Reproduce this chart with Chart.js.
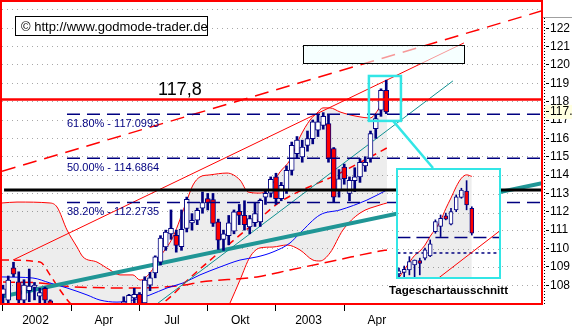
<!DOCTYPE html>
<html>
<head>
<meta charset="utf-8">
<script src="https://cdn.jsdelivr.net/npm/chart.js@4/dist/chart.umd.min.js"></script>
<style>
  html, body { margin: 0; padding: 0; background: #fff; }
  #wrap { position: relative; width: 572px; height: 326px; }
  #wrap canvas { display: block; }
  #inset { position: absolute; left: 396px; top: 168px; width: 101px; height: 107px; border: 2px solid #33e6e6; background: #fff; }
</style>
</head>
<body>
<div id="wrap">
  <canvas id="main" width="572" height="326"></canvas>
  <div id="inset"><canvas id="daily" width="101" height="107"></canvas></div>
</div>
<script>
// weekly candles, Jan 2002 .. May 2003 (index = week)
const weekOpen = [107.5, 107.19, 108.95, 108.19, 107.19, 107.7, 107.88, 107.4, 107.83, 107.15,
  106.8, 106.4, 106.6, 106.2, 106.3, 106.0, 105.7, 105.9, 105.6, 105.8,
  106.1, 106.0, 106.5, 106.8, 106.9, 107.3, 107.52, 107.03, 108.0, 108.67,
  109.26, 110.08, 110.8, 110.72, 110.1, 111.1, 111.39, 111.54, 112.2, 112.72,
  112.67, 111.45, 110.5, 110.7, 110.95, 112.03, 111.8, 111.17, 111.4, 111.45,
  112.8, 113.02, 113.9, 112.72, 113.17, 114.26, 115.17, 114.99, 115.62, 115.99,
  116.44, 116.7, 116.8, 115.44, 113.2, 114.44, 113.0, 113.7, 113.9, 114.5,
  114.9, 116.53, 117.53, 118.62];
const weekHigh = [108.0, 108.5, 109.25, 108.73, 108.3, 108.88, 108.15, 107.83, 107.9, 107.2,
  106.95, 106.7, 106.8, 106.5, 106.6, 106.3, 106.1, 106.2, 105.9, 106.3,
  106.5, 106.6, 106.9, 107.37, 107.5, 107.83, 107.6, 108.46, 108.7, 109.6,
  110.7, 111.0, 112.1, 111.0, 112.1, 112.8, 111.9, 112.2, 113.08, 113.0,
  113.0, 111.6, 111.0, 111.8, 112.1, 112.4, 112.6, 111.8, 112.5, 112.7,
  113.2, 113.9, 114.1, 113.6, 114.5, 115.8, 116.1, 115.9, 116.4, 117.0,
  117.26, 117.4, 117.26, 115.5, 114.3, 114.6, 113.9, 114.4, 114.9, 115.0,
  116.4, 117.26, 118.7, 119.17];
const weekLow = [106.9, 106.9, 108.46, 106.9, 106.9, 107.1, 107.2, 107.0, 106.9, 106.7,
  106.3, 106.0, 106.1, 105.8, 105.9, 105.5, 105.4, 105.5, 105.2, 105.6,
  105.8, 105.8, 106.2, 106.5, 106.6, 106.9, 106.7, 106.8, 107.7, 108.4,
  109.1, 109.9, 110.5, 109.8, 109.9, 110.9, 111.0, 111.3, 111.92, 112.1,
  111.2, 109.95, 109.9, 110.2, 110.8, 111.3, 111.0, 110.8, 111.2, 111.2,
  112.4, 112.8, 112.4, 112.6, 113.0, 114.0, 114.9, 114.7, 115.3, 115.7,
  116.1, 116.5, 114.7, 112.5, 112.8, 113.5, 112.6, 113.1, 113.6, 114.2,
  114.7, 116.0, 117.2, 117.35];
const weekClose = [107.8, 108.28, 108.6, 107.19, 108.01, 107.95, 108.0, 107.6, 107.19, 106.95,
  106.4, 106.6, 106.2, 106.3, 106.0, 105.7, 105.9, 105.6, 105.8, 106.1,
  106.0, 106.5, 106.4, 107.1, 107.45, 107.5, 106.9, 108.28, 108.4, 109.54,
  110.57, 110.9, 111.1, 110.17, 111.05, 112.68, 111.54, 112.08, 112.5, 112.48,
  111.36, 110.45, 110.8, 111.4, 112.0, 111.8, 111.3, 111.63, 111.9, 112.63,
  113.0, 113.77, 112.72, 113.44, 114.26, 115.62, 115.9, 115.53, 115.99, 116.9,
  116.9, 117.2, 114.9, 112.8, 113.8, 113.8, 113.72, 113.9, 114.7, 114.7,
  116.26, 117.08, 118.62, 117.44];

// indicator curves: [week, value]
const upperBand = [[-0.19, 112.48], [2.67, 112.53], [8.95, 112.48], [10.29, 112.26], [12.19, 111.01],
  [14.1, 110.08], [15.24, 109.54], [17.9, 109.26], [20.38, 108.83], [22.29, 108.56], [24.76, 108.56],
  [26.1, 108.28], [28.0, 108.67], [29.9, 109.54], [32.38, 110.63], [35.05, 112.64], [36.19, 113.46],
  [37.52, 113.9], [39.43, 114.01], [42.67, 114.11], [45.14, 113.73], [46.67, 113.08], [48.95, 113.02],
  [50.86, 113.35], [52.76, 114.17], [54.67, 114.82], [56.57, 116.08], [58.48, 117.0], [59.81, 117.38],
  [60.95, 117.66], [62.29, 117.66], [64.19, 117.44], [66.1, 117.28], [68.0, 117.17], [69.9, 117.11],
  [71.43, 117.55], [72.38, 118.09], [73.14, 118.47]];
const lowerBand = [[-0.19, 104.8], [14, 104.2], [28, 104.0], [38, 104.8], [41.5, 106.0], [43.24, 107.03],
  [45.14, 108.28], [47.05, 109.54], [48.95, 110.03], [51.43, 110.08], [54.1, 110.19], [56.57, 109.92],
  [59.05, 109.37], [60.38, 109.32], [62.29, 109.76], [64.76, 111.01], [68.0, 111.93], [71.81, 112.37],
  [73.14, 112.48]];
const blueAverage = [[-0.19, 108.45], [5.71, 108.39], [8.95, 108.12], [12.19, 107.85], [16.0, 107.47],
  [18.48, 107.19], [21.71, 107.08], [24.76, 107.19], [28.0, 107.47], [31.24, 107.85], [34.29, 108.12],
  [37.52, 108.56], [41.33, 108.99], [45.14, 109.37], [48.38, 109.54], [51.43, 109.81], [54.67, 110.3],
  [56.57, 110.84], [60.38, 111.83], [64.19, 112.1], [69.33, 112.64], [73.14, 113.19]];
const fastAverage = [[-0.19, 109.37], [7.05, 109.26], [8.95, 108.56], [10.86, 107.74], [12.76, 107.03],
  [16, 106.5], [22, 106.2], [27, 106.5], [30.48, 107.03], [36.0, 108.5], [48.57, 111.55], [52.76, 112.53],
  [64.19, 114.11], [73.14, 115.48]];
const slowAverage = [[0, 108.17], [7.05, 108.12], [13.71, 107.9], [25.52, 107.85], [34.67, 108.01],
  [37.52, 108.17], [48.38, 108.45], [54.67, 108.83], [63.62, 109.37], [71.81, 109.86], [73.14, 109.92]];

// straight trend lines: [week, value]
const channelDashed = [[-0.19, 114.21], [102.67, 122.95]];
const channelSolid = [[1.905, 109.37], [87.8, 121.2]];
const tealThick = [[-0.19, 107.38], [102.67, 113.56]];
const tealThin = [[29.33, 106.98], [85.7, 119.13]];

// horizontal levels
const blackLevel = 113.19;
const resistance = 118.12;
const resistanceText = '117,8';
const fibLevels = [117.31, 114.92, 112.5];
const fibLabels = ['61.80% - 117.0993', '50.00% - 114.6864', '38.20% - 112.2735'];
const lastPriceText = '117.44';

// axis labels
const quarterNames = ['2002', 'Apr', 'Jul', 'Okt', '2003', 'Apr'];
const yTickValues = [108, 109, 110, 111, 112, 113, 114, 115, 116, 117, 118, 119, 120, 121, 122, 123];

// daily inset (Tageschart)
const dayOpen = [116.1, 116.15, 116.23, 116.4, 116.54, 116.62, 116.69, 117.49, 117.66, 118.01, 117.74, 118.21, 118.62, 118.83, 118.26];
const dayHigh = [116.29, 116.36, 116.67, 116.56, 116.62, 116.95, 117.22, 117.88, 118.04, 118.1, 118.26, 118.7, 118.92, 119.17, 118.31];
const dayLow = [115.96, 116.01, 116.07, 116.01, 116.07, 116.56, 116.67, 117.44, 117.33, 117.88, 117.71, 118.15, 118.59, 118.21, 117.38];
const dayClose = [116.2, 116.25, 116.51, 116.56, 116.45, 116.89, 117.09, 117.82, 117.93, 117.9, 118.15, 118.64, 118.86, 118.37, 117.44];
const dayUpperBand = [115.98, 116.23, 116.48, 116.71, 116.85, 117.05, 117.34, 117.58, 117.85, 118.25, 118.6, 118.97, 119.25, 119.36, 119.31];
const dayTrend = [[7.56, 115.96], [19.4, 117.52]];
const dayLevelLong = 117.3;
const dayLevelShort = 116.79;
const dayGridLevels = [116.3, 116.9, 117.5, 118.1, 118.7, 119.3];

Chart.defaults.font.family = '"Liberation Sans", Arial, sans-serif';
Chart.defaults.color = '#000';

const NAVY = '#000080', RED = '#ff0000', CYAN = '#33e6e6';
const X_MIN = -0.19, X_MAX = 102.67, Y_MIN = 107.03, Y_MAX = 123.43;

const pts = arr => arr.map(([x, y]) => ({ x, y }));
const flat = (v, a, b) => [{ x: a, y: v }, { x: b, y: v }];

function line(data, color, width, dash, order, extra) {
  return Object.assign({
    type: 'line', data, borderColor: color, borderWidth: width, borderDash: dash || [],
    pointRadius: 0, fill: false, order, clip: 0
  }, extra || {});
}

function candleSets(open, high, low, close, bodyW, wickW) {
  return [
    { type: 'bar', data: low.map((l, i) => ({ x: i, y: [l, high[i]] })), backgroundColor: NAVY,
      barThickness: wickW, grouped: false, order: 1, clip: 0 },
    { type: 'bar', data: open.map((o, i) => ({ x: i, y: [o, close[i]] })),
      backgroundColor: c => (close[c.dataIndex] < open[c.dataIndex] ? RED : '#fff'),
      borderColor: NAVY, borderWidth: 1, borderSkipped: false,
      barThickness: bodyW, grouped: false, order: 0, clip: 0 }
  ];
}

const overlay = {
  id: 'overlay',
  afterDraw(chart) {
    const { ctx, scales: { x, y } } = chart;
    const px = i => x.getPixelForValue(i);
    const py = v => y.getPixelForValue(v);
    ctx.save();

    // fibonacci labels
    ctx.fillStyle = NAVY;
    ctx.font = '11px "Liberation Sans", Arial, sans-serif';
    ctx.textBaseline = 'alphabetic';
    fibLabels.forEach((t, k) => ctx.fillText(t, px(12.19), py(fibLevels[k]) + 12.5));

    // resistance label
    ctx.fillStyle = '#000';
    ctx.font = '18px "Liberation Sans", Arial, sans-serif';
    ctx.textAlign = 'center';
    ctx.fillText(resistanceText, px(33.7), py(resistance) - 4.5);
    ctx.textAlign = 'left';

    // empty target box
    const bx1 = px(57.1), bx2 = px(87.8), by1 = py(121.09), by2 = py(120.09);
    ctx.fillStyle = 'rgba(240,255,255,0.6)';
    ctx.fillRect(bx1, by1, bx2 - bx1, by2 - by1);
    ctx.strokeStyle = '#000';
    ctx.lineWidth = 1;
    ctx.strokeRect(Math.round(bx1) + 0.5, Math.round(by1) + 0.5, Math.round(bx2 - bx1), Math.round(by2 - by1));

    // highlight of the last weeks and connector to the inset
    const hx1 = px(69.7), hx2 = px(75.8), hy1 = py(119.4), hy2 = py(116.95);
    ctx.strokeStyle = CYAN;
    ctx.lineWidth = 2.5;
    ctx.strokeRect(hx1, hy1, hx2 - hx1, hy2 - hy1);
    ctx.beginPath();
    ctx.moveTo(px(74.3), hy2);
    ctx.lineTo(433, 168);
    ctx.stroke();

    // inset caption
    ctx.fillStyle = '#000';
    ctx.font = 'bold 11.6px "Liberation Sans", Arial, sans-serif';
    ctx.textAlign = 'center';
    ctx.fillText('Tageschartausschnitt', 448.5, 293.5);
    ctx.textAlign = 'left';

    // copyright box
    ctx.fillStyle = '#fff';
    ctx.fillRect(15, 16, 192, 19);
    ctx.strokeStyle = '#000';
    ctx.lineWidth = 1;
    ctx.strokeRect(15.5, 16.5, 192, 19);
    ctx.fillStyle = '#000';
    ctx.font = '13px "Liberation Sans", Arial, sans-serif';
    ctx.fillText('\u00A9 http://www.godmode-trader.de', 21, 30.5);

    // frame of the plot
    ctx.strokeStyle = RED;
    ctx.lineWidth = 2;
    ctx.strokeRect(1, 1, 541, 303);

    // right axis line and last price marker
    ctx.strokeStyle = '#000';
    ctx.lineWidth = 1;
    ctx.setLineDash([1, 2]);
    ctx.beginPath();
    ctx.moveTo(544.5, 18);
    ctx.lineTo(544.5, 305);
    ctx.stroke();
    ctx.setLineDash([]);
    ctx.strokeStyle = '#a0a0a0';
    ctx.beginPath();
    ctx.moveTo(543, 17.5);
    ctx.lineTo(572, 17.5);
    ctx.stroke();
    const my = py(weekClose[weekClose.length - 1]);
    ctx.fillStyle = '#ffffe0';
    ctx.fillRect(545, my - 7, 27, 14);
    ctx.fillStyle = '#000';
    ctx.fillRect(546, Math.round(my) - 1, 3, 1);
    ctx.font = '12px "Liberation Sans", Arial, sans-serif';
    ctx.textBaseline = 'middle';
    ctx.fillText(lastPriceText, 550, my);

    ctx.restore();
  }
};

new Chart(document.getElementById('main'), {
  type: 'bar',
  data: {
    datasets: [
      line(pts(upperBand), RED, 1, [], 10, { fill: '+1', backgroundColor: 'rgba(0,0,0,0.07)', cubicInterpolationMode: 'monotone' }),
      line(pts(lowerBand), RED, 1, [], 9, { cubicInterpolationMode: 'monotone' }),
      line(pts(slowAverage), RED, 1.5, [12, 6], 8, { cubicInterpolationMode: 'monotone' }),
      line(pts(blueAverage), '#0000ff', 1, [], 7, { cubicInterpolationMode: 'monotone' }),
      line(pts(fastAverage), RED, 1.5, [7, 5], 6, { cubicInterpolationMode: 'monotone' }),
      line(pts(tealThick), '#209696', 4, [], 5),
      line(pts(tealThin), '#109090', 1, [], 4),
      line(pts(channelSolid), RED, 1, [], 3),
      line(pts(channelDashed), RED, 1.5, [14, 8], 2),
      ...candleSets(weekOpen, weekHigh, weekLow, weekClose, 5, 2),
      line(flat(blackLevel, 0.2, X_MAX), '#000', 3, [], -1),
      ...fibLevels.map(v => line(flat(v, 12.19, X_MAX), NAVY, 1.5, [13, 7], -1)),
      line(flat(resistance, X_MIN, X_MAX), RED, 2.5, [], -2)
    ]
  },
  options: {
    responsive: false,
    animation: false,
    devicePixelRatio: 1,
    events: [],
    layout: { padding: { left: 2, top: 2, right: 0, bottom: 0 } },
    plugins: { legend: { display: false }, tooltip: { enabled: false } },
    scales: {
      x: {
        type: 'linear', min: X_MIN, max: X_MAX, offset: false,
        afterBuildTicks(s) {
          const t = [];
          quarterNames.forEach((n, q) => { t.push({ value: q * 13 }); t.push({ value: q * 13 + 6.2 }); });
          s.ticks = t;
        },
        afterFit(s) { s.height = 23; s.paddingLeft = 0; s.paddingRight = 0; },
        ticks: {
          autoSkip: false, maxRotation: 0, padding: 2, font: { size: 12 }, color: '#000',
          callback: v => {
            const q = Math.round((v - 6.2) / 13);
            return Math.abs(v - (q * 13 + 6.2)) < 0.01 ? quarterNames[q] : '';
          }
        },
        grid: {
          drawOnChartArea: false, tickLength: 8, offset: false,
          tickColor: c => (c.tick && Math.abs((c.tick.value % 13) - 6.2) < 0.01) ? 'rgba(0,0,0,0)' : '#000'
        },
        border: { display: false }
      },
      y: {
        type: 'linear', position: 'right', min: Y_MIN, max: Y_MAX,
        afterBuildTicks(s) { s.ticks = yTickValues.map(v => ({ value: v })); },
        afterFit(s) { s.width = 30; s.paddingTop = 0; s.paddingBottom = 0; },
        ticks: { padding: 1, font: { size: 12 }, color: '#000', callback: v => (v === 123 ? '' : String(v)) },
        grid: {
          color: '#a8a8a8', tickLength: 7, tickBorderDash: [0, 4, 3, 0],
          tickColor: c => (c.tick && c.tick.value === 123 ? 'rgba(0,0,0,0)' : '#000')
        },
        border: { display: false, dash: [1, 4] }
      }
    }
  },
  plugins: [overlay]
});

new Chart(document.getElementById('daily'), {
  type: 'bar',
  data: {
    datasets: [
      line(dayUpperBand.map((v, k) => ({ x: k, y: v })), RED, 1, [], 10,
        { fill: 'start', backgroundColor: 'rgba(0,0,0,0.07)', cubicInterpolationMode: 'monotone' }),
      line(flat(dayLevelLong, -0.3, 19.5), NAVY, 1.5, [13, 6], 5),
      line(flat(dayLevelShort, -0.3, 19.5), NAVY, 1.5, [3, 3], 5),
      line(pts(dayTrend), RED, 1, [], 4),
      ...candleSets(dayOpen, dayHigh, dayLow, dayClose, 4, 1)
    ]
  },
  options: {
    responsive: false,
    animation: false,
    devicePixelRatio: 1,
    events: [],
    layout: { padding: 0 },
    plugins: { legend: { display: false }, tooltip: { enabled: false } },
    scales: {
      x: { type: 'linear', min: -0.19, max: 19.23, display: false, offset: false },
      y: {
        type: 'linear', position: 'left', min: 116.0, max: 119.52,
        afterBuildTicks(s) { s.ticks = dayGridLevels.map(v => ({ value: v })); },
        afterFit(s) { s.width = 0; s.paddingTop = 0; s.paddingBottom = 0; },
        ticks: { display: false },
        grid: { color: '#a8a8a8', drawTicks: false },
        border: { display: false, dash: [1, 4] }
      }
    }
  }
});
</script>
</body>
</html>
